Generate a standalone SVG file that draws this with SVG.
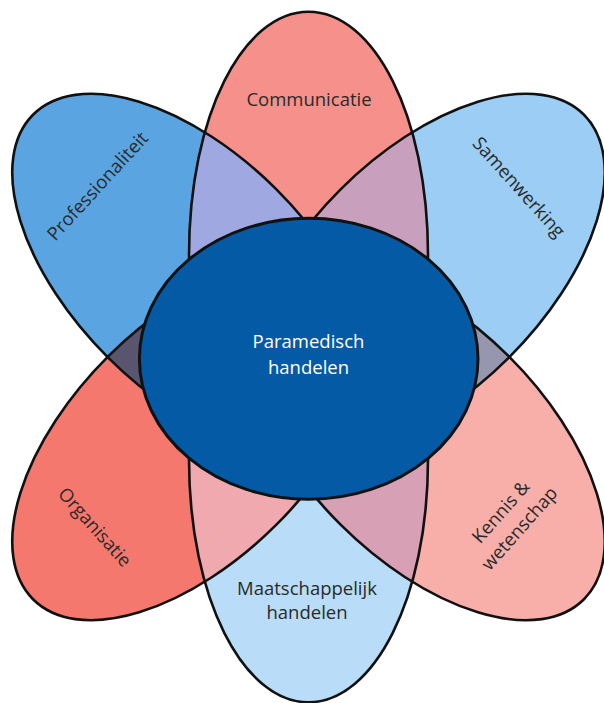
<svg xmlns="http://www.w3.org/2000/svg" xmlns:xlink="http://www.w3.org/1999/xlink" width="604" height="703" viewBox="0 0 604 703">
<style>
.outline{fill:none;stroke:#111;stroke-width:2.6}
.lbl{font-family:"Open Sans","Noto Sans","DejaVu Sans",sans-serif;font-size:18.5px;fill:#2a2a2a;text-anchor:middle}
.clbl{font-family:"Open Sans","Noto Sans","DejaVu Sans",sans-serif;font-size:18.5px;fill:#ffffff;text-anchor:middle}
</style>
<defs>
<path id="g-comm" d="M189,255 C189,115 243.5,11.7 308.5,11.7 C373.5,11.7 428,115 428,255 C428,330 380,420 308.5,420 C237,420 189,330 189,255Z"/>
<path id="g-maat" d="M189,255 C189,115 243.5,11.7 308.5,11.7 C373.5,11.7 428,115 428,255 C428,330 380,420 308.5,420 C237,420 189,330 189,255Z" transform="matrix(1,0,0,-1,0,714)"/>
<ellipse id="g-prof" cx="0" cy="0" rx="119" ry="225" transform="translate(192.4,273.6) rotate(-45.1)"/>
<ellipse id="g-samen" cx="0" cy="0" rx="119" ry="225" transform="translate(424.6,273.6) rotate(45.1)"/>
<ellipse id="g-org" cx="0" cy="0" rx="119" ry="225" transform="translate(192.4,440.4) rotate(45.1)"/>
<ellipse id="g-kennis" cx="0" cy="0" rx="119" ry="225" transform="translate(424.6,440.4) rotate(-45.1)"/>
<clipPath id="c-comm"><use xlink:href="#g-comm"/></clipPath>
<clipPath id="c-maat"><use xlink:href="#g-maat"/></clipPath>
<clipPath id="c-org"><use xlink:href="#g-org"/></clipPath>
<clipPath id="c-samen"><use xlink:href="#g-samen"/></clipPath>
</defs>
<rect width="604" height="703" fill="#ffffff"/>

<g id="node-communicatie">
<use xlink:href="#g-comm" fill="#F5918A"/>
<text class="lbl" x="309" y="106">Communicatie</text>
</g>
<g id="node-maatschappelijk">
<use xlink:href="#g-maat" fill="#B9DCF8"/>
<text class="lbl" x="307" y="595">Maatschappelijk</text>
<text class="lbl" x="307" y="619">handelen</text>
</g>
<g id="node-professionaliteit">
<use xlink:href="#g-prof" fill="#5AA5E1"/>
<text class="lbl" transform="translate(97.5,186) rotate(-47.5)" dy="0.35em">Professionaliteit</text>
</g>
<g id="node-samenwerking">
<use xlink:href="#g-samen" fill="#9BCDF5"/>
<text class="lbl" transform="translate(519,187) rotate(48)" dy="0.35em">Samenwerking</text>
</g>
<g id="node-organisatie">
<use xlink:href="#g-org" fill="#F5786E"/>
<text class="lbl" transform="translate(95,527) rotate(48)" dy="0.35em">Organisatie</text>
</g>
<g id="node-kennis">
<use xlink:href="#g-kennis" fill="#F8AFAA"/>
<g transform="translate(510,520) rotate(-48.5)">
<text class="lbl" x="0" y="-12.5" dy="0.35em">Kennis &amp;</text>
<text class="lbl" x="0" y="12.5" dy="0.35em">wetenschap</text>
</g>
</g>

<g id="overlaps">
<use xlink:href="#g-prof" clip-path="url(#c-comm)" fill="#A0A8E1"/>
<use xlink:href="#g-samen" clip-path="url(#c-comm)" fill="#C8A0BE"/>
<use xlink:href="#g-prof" clip-path="url(#c-org)" fill="#5A556E"/>
<use xlink:href="#g-kennis" clip-path="url(#c-samen)" fill="#9696AF"/>
<use xlink:href="#g-org" clip-path="url(#c-maat)" fill="#F0AAAF"/>
<use xlink:href="#g-kennis" clip-path="url(#c-maat)" fill="#D7A0B4"/>
</g>

<g id="connectors">
<use xlink:href="#g-comm" class="outline"/>
<use xlink:href="#g-maat" class="outline"/>
<use xlink:href="#g-prof" class="outline"/>
<use xlink:href="#g-samen" class="outline"/>
<use xlink:href="#g-org" class="outline"/>
<use xlink:href="#g-kennis" class="outline"/>
</g>

<g id="node-paramedisch">
<ellipse cx="308.7" cy="358.8" rx="169.3" ry="140.5" fill="#055AA5" stroke="#111" stroke-width="3"/>
<text class="clbl" x="308.5" y="348">Paramedisch</text>
<text class="clbl" x="308.5" y="374">handelen</text>
</g>
</svg>
